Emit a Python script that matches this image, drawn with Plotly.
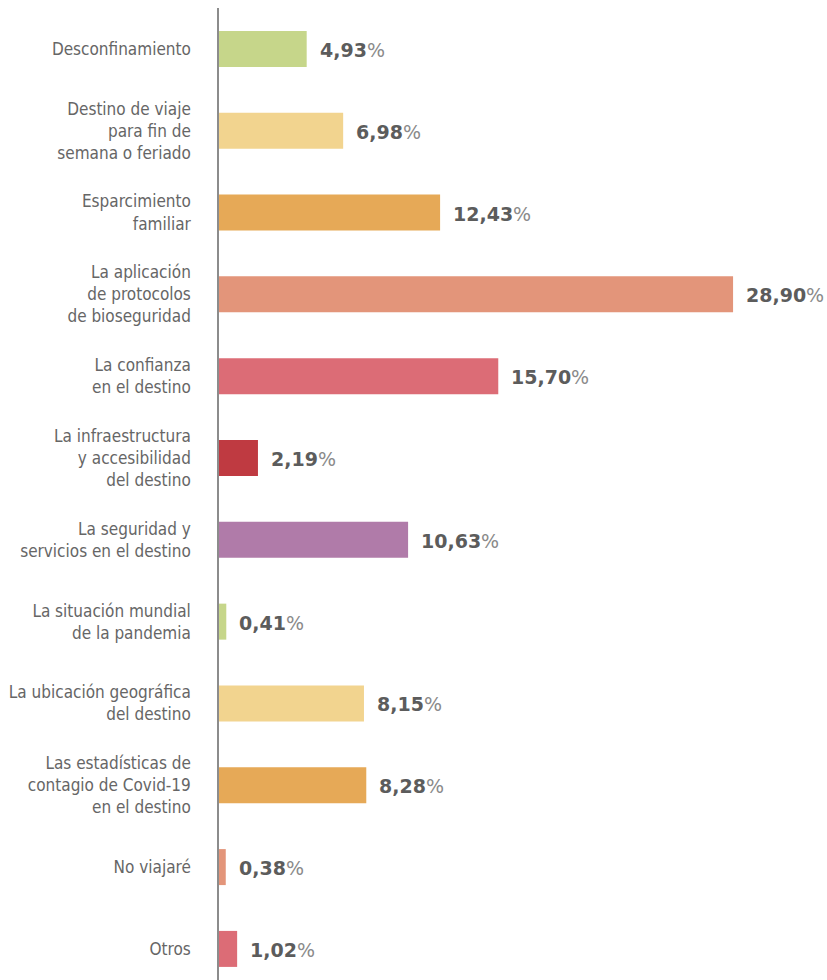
import plotly.graph_objects as go

# Motivos para viajar (porcentaje de respuestas)
categorias = [
    "Desconfinamiento",
    "Destino de viaje<br>para fin de<br>semana o feriado",
    "Esparcimiento<br>familiar",
    "La aplicación<br>de protocolos<br>de bioseguridad",
    "La confianza<br>en el destino",
    "La infraestructura<br>y accesibilidad<br>del destino",
    "La seguridad y<br>servicios en el destino",
    "La situación mundial<br>de la pandemia",
    "La ubicación geográfica<br>del destino",
    "Las estadísticas de<br>contagio de Covid-19<br>en el destino",
    "No viajaré",
    "Otros",
]
valores = [4.93, 6.98, 12.43, 28.90, 15.70, 2.19, 10.63, 0.41, 8.15, 8.28, 0.38, 1.02]
colores = [
    "#c6d68a", "#f2d48f", "#e6a957", "#e3957a", "#dc6c76", "#bf3a41",
    "#b07ba9", "#c6d68a", "#f2d48f", "#e6a957", "#e3957a", "#dc6c76",
]

fig = go.Figure(
    go.Bar(
        x=valores,
        y=categorias,
        orientation="h",
        marker=dict(color=colores, line=dict(width=0)),
        hoverinfo="skip",
    )
)

# Etiquetas de valor con coma decimal
for cat, val in zip(categorias, valores):
    txt = f"{val:.2f}".replace(".", ",")
    fig.add_annotation(
        x=val, y=cat, xref="x", yref="y",
        text=f"<b>{txt}</b><span style='color:#8a8a8a'>%</span>",
        showarrow=False, xanchor="left", xshift=11, yshift=-1,
        font=dict(family="DejaVu Sans", size=19, color="#5c5c5c"),
    )

fig.update_layout(
    width=827, height=980,
    margin=dict(l=219, r=21, t=8, b=0),
    paper_bgcolor="white", plot_bgcolor="white",
    bargap=0.56,
    showlegend=False,
    xaxis=dict(range=[0, 33], visible=False, fixedrange=True),
    yaxis=dict(
        range=[11.38, -0.5],
        showline=True, linecolor="#8c8c8c", linewidth=1.5,
        showgrid=False, zeroline=False, ticks="",
        ticklabelstandoff=23,
        tickfont=dict(family="DejaVu Sans Condensed, Roboto, sans-serif",
                      size=17, color="#666666"),
    ),
)

fig.write_html("out.html")
